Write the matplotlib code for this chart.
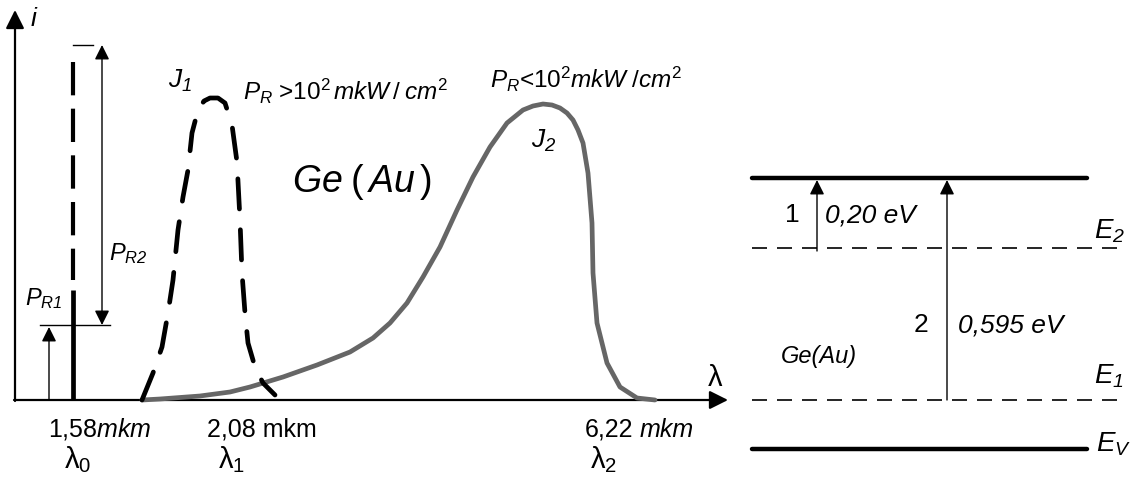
import matplotlib.pyplot as plt

plt.rcParams['font.family'] = ['Liberation Sans', 'DejaVu Sans']
plt.rcParams['mathtext.fontset'] = 'custom'
plt.rcParams['mathtext.rm'] = 'Liberation Sans'
plt.rcParams['mathtext.it'] = 'Liberation Sans:italic'
plt.rcParams['mathtext.sf'] = 'Liberation Sans:italic'

# schematic spectrum (horizontal position, photocurrent height), drawing units
j1_x = [142, 153, 162, 168, 173, 178, 183, 188, 192, 198, 204, 210, 218, 225, 232,
        237, 240, 242, 245, 248, 255, 263, 275]
j1_y = [400, 373, 347, 313, 280, 230, 197, 170, 133, 110, 101, 98, 98, 103, 125,
        162, 220, 273, 313, 343, 367, 383, 395]
j2_x = [142, 160, 200, 230, 250, 283, 317, 350, 373, 390, 407, 423, 440, 457, 473,
        490, 507, 523, 533, 543, 552, 560, 567, 573, 578, 583, 588, 592, 593, 597,
        607, 620, 637, 655]
j2_y = [400, 399, 396, 392, 387, 377, 365, 352, 338, 323, 303, 277, 247, 210, 177,
        147, 123, 110, 106, 104, 105, 108, 113, 120, 130, 143, 173, 223, 273, 323,
        363, 387, 398, 400]
line_x = 73           # λ0 line
pr1_y = 325           # top of P_R1 part
pr_top = 45           # top of the λ0 line

# energy levels (vertical position in drawing units)
levels = {'top': 178, 'E2': 248, 'E1': 400, 'EV': 449}

tick_num = ['1,58$mkm$', '2,08 mkm', '6,22']
tick_lam = ['λ$_0$', 'λ$_1$', 'λ$_2$']

fig = plt.figure(figsize=(11.4, 4.79), dpi=100)
ax = fig.add_axes([0, 0, 1, 1])
ax.set_xlim(0, 1140)
ax.set_ylim(479, 0)
ax.axis('off')

arr = dict(arrowstyle='-|>', color='black', lw=1.6, mutation_scale=28, shrinkA=0, shrinkB=0)
thin = dict(arrowstyle='-|>', color='black', lw=1.0, mutation_scale=22, shrinkA=0, shrinkB=0)

# axes
ax.annotate('', xy=(15, 10), xytext=(15, 401), arrowprops=arr)
ax.annotate('', xy=(728, 400), xytext=(14, 400), arrowprops=arr)
ax.text(31, 26, 'i', fontsize=19, style='italic', ha='left', va='baseline')
ax.text(708, 386, 'λ', fontsize=21, ha='left', va='baseline')

# λ0 line: dashed above P_R1, solid below
ax.plot([line_x, line_x], [62, 280], color='black', lw=3.0,
        linestyle=(0, (8, 3.2)), solid_capstyle='butt')
ax.plot([line_x, line_x], [290, 400], color='black', lw=3.4, solid_capstyle='butt')
ax.plot([line_x, line_x + 20], [pr_top, pr_top], color='black', lw=1.0)
ax.plot([40, 110], [pr1_y, pr1_y], color='black', lw=1.0)

# P_R2 double arrow and P_R1 arrow
ax.annotate('', xy=(102, pr_top), xytext=(102, pr1_y), arrowprops=dict(thin, arrowstyle='<|-|>'))
ax.annotate('', xy=(49, pr1_y + 2), xytext=(49, 400), arrowprops=thin)
ax.text(25, 305, r'$P_{\mathsf{R1}}$', fontsize=17, ha='left', va='baseline')
ax.text(109, 260, r'$P_{\mathsf{R2}}$', fontsize=17, ha='left', va='baseline')

# curves
ax.plot(j2_x, j2_y, color='#666666', lw=3.4, solid_capstyle='round',
        solid_joinstyle='round', zorder=3)
ax.plot(j1_x, j1_y, color='black', lw=3.4, linestyle=(0, (6.4, 4.4)),
        dash_capstyle='round', dash_joinstyle='round', zorder=4)

ax.text(168, 88, r'$J_{\mathsf{1}}$', fontsize=19, ha='left', va='baseline')
ax.text(243, 100, r'$P_R$ >10$^2$$\,mkW\,/\;cm^2$', fontsize=17.5, ha='left', va='baseline')
ax.text(292, 192, r'$Ge\;(\,Au\,)$', fontsize=27, ha='left', va='baseline')
ax.text(490, 88, r'$P_R$<10$^2$$mkW\;/cm^2$', fontsize=17.5, ha='left', va='baseline')
ax.text(531, 148, r'$J_{\mathsf{2}}$', fontsize=19, ha='left', va='baseline')

# bottom labels
ax.text(48, 437, tick_num[0], fontsize=18, ha='left', va='baseline')
ax.text(262, 437, tick_num[1], fontsize=18, ha='center', va='baseline')
ax.text(585, 437, tick_num[2], fontsize=18, ha='left', va='baseline')
ax.text(640, 437, 'mkm', fontsize=18, style='italic', ha='left', va='baseline')
for xc, lab in zip([78, 232, 604], tick_lam):
    ax.text(xc, 468, lab, fontsize=21, ha='center', va='baseline')

# energy diagram
ax.plot([752, 1087], [levels['top']] * 2, color='black', lw=3.2, solid_capstyle='round')
ax.plot([752, 1087], [levels['EV']] * 2, color='black', lw=3.2, solid_capstyle='round')
ax.plot([752, 1120], [levels['E2']] * 2, color='black', lw=1.2, linestyle=(0, (9, 6)))
ax.plot([752, 1125], [levels['E1']] * 2, color='black', lw=1.2, linestyle=(0, (9, 6)))
ax.annotate('', xy=(817, levels['top'] + 2), xytext=(817, levels['E2'] + 3), arrowprops=thin)
ax.annotate('', xy=(947, levels['top'] + 2), xytext=(947, levels['E1']), arrowprops=thin)

ax.text(785, 222, '1', fontsize=19, ha='left', va='baseline')
ax.text(825, 222, '0,20 eV', fontsize=19, style='italic', ha='left', va='baseline')
ax.text(914, 332, '2', fontsize=19, ha='left', va='baseline')
ax.text(958, 332, '0,595 eV', fontsize=19, style='italic', ha='left', va='baseline')
ax.text(781, 363, 'Ge(Au)', fontsize=17, style='italic', ha='left', va='baseline')
ax.text(1094, 238, r'$E_{\mathsf{2}}$', fontsize=20, ha='left', va='baseline')
ax.text(1094, 383, r'$E_{\mathsf{1}}$', fontsize=20, ha='left', va='baseline')
ax.text(1096, 451, '$E_V$', fontsize=20, ha='left', va='baseline')

fig.savefig('out.png', dpi=100)
